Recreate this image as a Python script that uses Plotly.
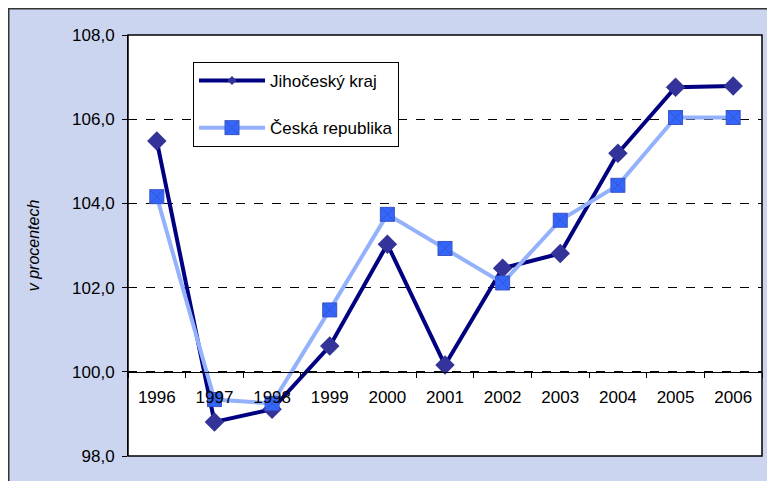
import plotly.graph_objects as go

years = ["1996", "1997", "1998", "1999", "2000", "2001", "2002", "2003", "2004", "2005", "2006"]
jihocesky = [105.48, 98.81, 99.11, 100.61, 103.03, 100.16, 102.46, 102.81, 105.19, 106.76, 106.79]
ceska = [104.16, 99.34, 99.25, 101.47, 103.74, 102.93, 102.11, 103.60, 104.43, 106.04, 106.04]
name_j = "Jihočeský kraj"
name_c = "Česká republika"
y_ticks = [98, 100, 102, 104, 106, 108]

FONT = "Liberation Sans, Arial, sans-serif"
BG = "#ccd5f0"
OFF = 8  # page body margin

fig = go.Figure()

# data traces (Česká drawn on top)
fig.add_trace(go.Scatter(
    x=years, y=jihocesky, mode="lines+markers", name=name_j, showlegend=False,
    line=dict(color="#000080", width=4),
    marker=dict(symbol="diamond", size=15, color="#333399", line=dict(width=0)),
))
fig.add_trace(go.Scatter(
    x=years, y=ceska, mode="lines+markers", name=name_c, showlegend=False,
    line=dict(color="#94b2fc", width=4),
    marker=dict(symbol="square-x", size=14, color="#3366ff", line=dict(width=1, color="#3a55c0")),
))

# legend entries
fig.add_trace(go.Scatter(
    x=[None], y=[None], mode="lines+markers", name=name_j, legendgroup="a",
    line=dict(color="#000080", width=4),
    marker=dict(symbol="diamond", size=7, color="#333399"),
))
fig.add_trace(go.Scatter(
    x=[None], y=[None], mode="lines+markers", name=name_c, legendgroup="b",
    line=dict(color="#94b2fc", width=4),
    marker=dict(symbol="square-x", size=14, color="#3366ff", line=dict(width=1, color="#3a55c0")),
))

W, H = 775, 481
L, R, T, B = 128 - OFF, 775 - (762 - OFF), 35 - OFF, 481 - (456 - OFF)
pw, ph = W - L - R, H - T - B

def px(x):
    return (x - OFF - L) / pw

def py(y):
    return 1 - (y - OFF - T) / ph

fig.update_layout(
    width=W, height=H,
    margin=dict(l=L, r=R, t=T, b=B, autoexpand=False),
    paper_bgcolor=BG,
    plot_bgcolor="white",
    font=dict(family=FONT, size=17, color="black"),
    separators=", ",
    showlegend=True,
    legend=dict(
        x=px(193), y=py(62), xanchor="left", yanchor="top",
        bgcolor="white", bordercolor="black", borderwidth=1,
        font=dict(size=17, family=FONT),
        traceorder="grouped", tracegroupgap=22, itemwidth=66,
    ),
    xaxis=dict(
        type="category", categoryorder="array", categoryarray=years,
        range=[-0.5, len(years) - 0.5],
        anchor="free", position=0.2,
        showline=True, linecolor="black", linewidth=1,
        ticks="outside", tickson="boundaries", ticklen=5, tickcolor="black",
        showgrid=False, tickfont=dict(size=17), ticklabelstandoff=10,
    ),
    yaxis=dict(
        range=[98, 108], tickvals=y_ticks, tickformat=".1f",
        showline=True, linecolor="black", linewidth=1,
        ticks="outside", ticklen=5, tickcolor="black",
        showgrid=True, gridcolor="black", griddash="dash", gridwidth=1,
        zeroline=False, tickfont=dict(size=17), ticklabelstandoff=4,
        title=dict(text="<i>v procentech</i>", font=dict(size=16), standoff=28),
        automargin=False,
    ),
    shapes=[
        dict(type="rect", xref="paper", yref="paper",
             x0=px(OFF + 0.5), x1=px(800), y0=py(500), y1=py(OFF + 0.5),
             fillcolor="rgba(0,0,0,0)", line=dict(color="#333333", width=2), layer="above"),
        dict(type="rect", xref="paper", yref="paper",
             x0=0, x1=1, y0=0, y1=1,
             line=dict(color="black", width=1.5), layer="above"),
    ],
)

fig.write_html("out.html")
